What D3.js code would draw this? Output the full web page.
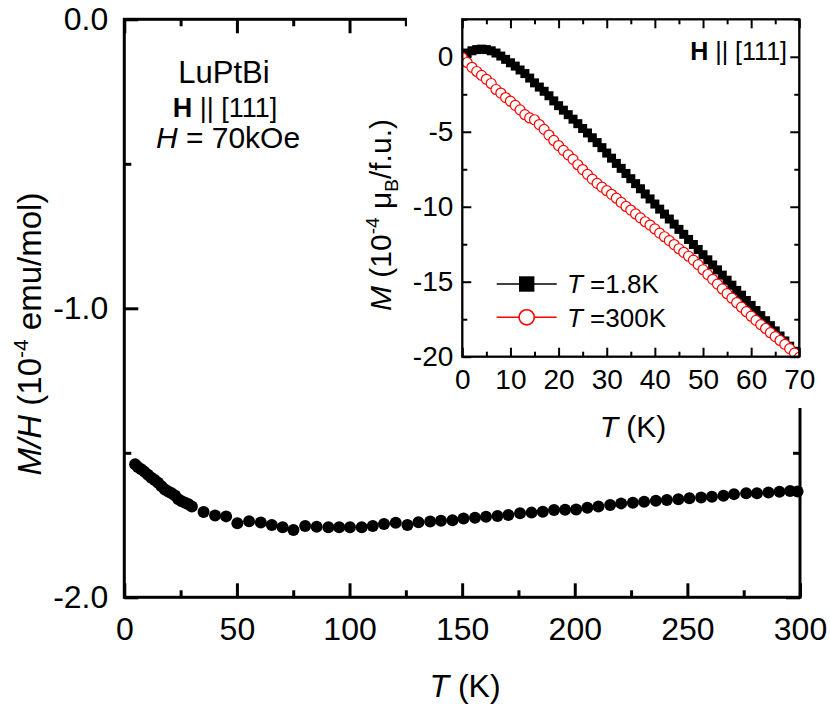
<!DOCTYPE html>
<html>
  <head>
    <title>LuPtBi M/H vs T</title>
    <script src="https://cdnjs.cloudflare.com/ajax/libs/d3/7.8.5/d3.min.js"></script>
    <style>
      body { margin: 0; background: #fff; }
      text { font-family: "Liberation Sans", Arial, sans-serif; }
    </style>
  </head>

  <body>
    <svg width="830" height="714"></svg>

    <script type="text/javascript">
      // main panel: M/H (10^-4 emu/mol) vs T (K)
      var mainT = [4.8, 6, 7.5, 9, 10.5, 12, 13.5, 15, 16.5, 18, 19.5, 21, 22.5, 24, 25.5, 27, 28.5, 30,
        35.2, 40.3, 45.2, 50.2, 55.4, 60.6, 65.5, 70.3, 75.1, 80.3, 85.4, 90.6, 95.4, 100.2, 105.4,
        110.3, 115.3, 120.5, 125.7, 130.6, 135.8, 140.6, 145.7, 150.6, 155.7, 160.6, 165.7, 170.5,
        175.7, 180.8, 185.8, 190.8, 195.7, 200.6, 205.6, 210.5, 215.7, 220.6, 225.8, 230.8, 236.0,
        240.9, 246.0, 250.9, 256.1, 260.9, 266.0, 270.7, 276.1, 280.9, 286.0, 290.9, 295.6, 298.9];
      var mainMH = [-1.540, -1.549, -1.557, -1.566, -1.576, -1.586, -1.594, -1.604, -1.616, -1.627,
        -1.634, -1.640, -1.648, -1.661, -1.668, -1.673, -1.678, -1.686,
        -1.705, -1.717, -1.720, -1.744, -1.737, -1.741, -1.750, -1.758, -1.767, -1.753, -1.756,
        -1.758, -1.758, -1.758, -1.758, -1.753, -1.746, -1.742, -1.750, -1.740, -1.738, -1.735,
        -1.733, -1.727, -1.725, -1.721, -1.719, -1.715, -1.709, -1.707, -1.704, -1.698, -1.697,
        -1.696, -1.690, -1.686, -1.681, -1.675, -1.673, -1.669, -1.666, -1.663, -1.661, -1.657,
        -1.655, -1.652, -1.649, -1.643, -1.640, -1.640, -1.637, -1.635, -1.632, -1.634];

      // inset: M (10^-4 muB/f.u.) vs field
      var insetH = [0, 1, 2, 3, 4, 5, 6, 7, 8, 9, 10, 11, 12, 13, 14, 15, 16, 17, 18, 19, 20,
        21, 22, 23, 24, 25, 26, 27, 28, 29, 30, 31, 32, 33, 34, 35, 36, 37, 38, 39, 40,
        41, 42, 43, 44, 45, 46, 47, 48, 49, 50, 51, 52, 53, 54, 55, 56, 57, 58, 59, 60,
        61, 62, 63, 64, 65, 66, 67, 68, 69, 70];
      var m1p8K = [0.02, 0.25, 0.40, 0.48, 0.51, 0.48, 0.40, 0.25, 0.05, -0.17, -0.40,
        -0.62, -0.88, -1.12, -1.42, -1.74, -2.02, -2.30, -2.60, -2.94, -3.26,
        -3.56, -3.86, -4.16, -4.46, -4.78, -5.08, -5.40, -5.72, -6.06, -6.42,
        -6.76, -7.11, -7.44, -7.78, -8.13, -8.46, -8.80, -9.15, -9.48, -9.82,
        -10.16, -10.49, -10.82, -11.16, -11.51, -11.84, -12.18, -12.52, -12.85, -13.20,
        -13.54, -13.88, -14.21, -14.56, -14.90, -15.23, -15.58, -15.90, -16.25, -16.58,
        -16.92, -17.26, -17.60, -17.93, -18.28, -18.62, -18.95, -19.30, -19.64, -19.98];
      var m300K = [-0.05, -0.38, -0.70, -0.98, -1.24, -1.50, -1.78, -2.18, -2.42, -2.72, -2.96,
        -3.24, -3.54, -3.86, -4.08, -4.20, -4.52, -4.84, -5.22, -5.58, -5.92,
        -6.24, -6.54, -6.84, -7.20, -7.52, -7.84, -8.16, -8.44, -8.69, -8.93,
        -9.17, -9.43, -9.71, -9.98, -10.22, -10.48, -10.74, -11.00, -11.22, -11.48,
        -11.76, -12.00, -12.26, -12.52, -12.80, -13.04, -13.30, -13.56, -13.86, -14.20,
        -14.52, -14.84, -15.16, -15.48, -15.80, -16.10, -16.40, -16.70, -17.00, -17.30,
        -17.58, -17.86, -18.12, -18.40, -18.66, -18.92, -19.18, -19.46, -19.76, -20.05];

      // ticks
      var mainXTicks = [0, 50, 100, 150, 200, 250, 300];
      var mainXMinor = [25, 75, 125, 175, 225, 275];
      var mainYTicks = [0, -1, -2];
      var mainYMinor = [-0.5, -1.5];
      var insetXTicks = [0, 10, 20, 30, 40, 50, 60, 70];
      var insetXMinor = [5, 15, 25, 35, 45, 55, 65];
      var insetYTicks = [0, -5, -10, -15, -20];
      var insetYMinor = [2.5, -2.5, -7.5, -12.5, -17.5];
      var legendLabels = ["=1.8K", "=300K"];

      var svg = d3.select("svg");
      svg.append("rect").attr("width", 830).attr("height", 714).attr("fill", "#fff");

      var x = d3.scaleLinear().domain([0, 300]).range([124.3, 800]);
      var y = d3.scaleLinear().domain([-2, 0]).range([597.3, 19.3]);
      var ix = d3.scaleLinear().domain([0, 70]).range([462.3, 799.3]);
      var iy = d3.scaleLinear().domain([-20, 2.5]).range([356.7, 19.3]);

      // one axis with inward ticks, optional labels
      function addAxis(axis, values, size, pad, fmt, tx, ty, fontSize, sw) {
        var g = svg.append("g")
          .attr("transform", "translate(" + tx + "," + ty + ")")
          .call(axis.tickValues(values).tickSizeInner(-size).tickSizeOuter(0)
            .tickPadding(pad).tickFormat(fmt));
        g.select(".domain").remove();
        g.selectAll("line").attr("stroke", "#000").attr("stroke-width", sw);
        g.selectAll("text")
          .attr("fill", "#000")
          .style("font-size", fontSize + "px")
          .style("font-family", "'Liberation Sans', Arial, sans-serif");
        return g;
      }
      var blank = function () { return ""; };
      var f1 = function (d) { return d.toFixed(1); };
      var f0 = function (d) { return String(d); };

      // main frame and axes
      addAxis(d3.axisBottom(x), mainXTicks, 14, 20, f0, 0, 597.3, 32, 3);
      addAxis(d3.axisBottom(x), mainXMinor, 7, 20, blank, 0, 597.3, 32, 3);
      addAxis(d3.axisTop(x), mainXTicks, 14, 20, blank, 0, 19.3, 32, 3);
      addAxis(d3.axisTop(x), mainXMinor, 7, 20, blank, 0, 19.3, 32, 3);
      addAxis(d3.axisLeft(y), mainYTicks, 14, 16, f1, 124.3, 0, 32, 3);
      addAxis(d3.axisLeft(y), mainYMinor, 7, 16, blank, 124.3, 0, 32, 3);
      addAxis(d3.axisRight(y), mainYTicks, 14, 16, blank, 800, 0, 32, 3);
      addAxis(d3.axisRight(y), mainYMinor, 7, 16, blank, 800, 0, 32, 3);
      svg.append("rect")
        .attr("x", x(0)).attr("y", y(0))
        .attr("width", x(300) - x(0)).attr("height", y(-2) - y(0))
        .attr("fill", "none").attr("stroke", "#000").attr("stroke-width", 3);

      svg.append("g")
        .selectAll("circle")
        .data(mainT)
        .enter()
        .append("circle")
        .attr("cx", function (d) { return x(d); })
        .attr("cy", function (d, i) { return y(mainMH[i]); })
        .attr("r", 6)
        .attr("fill", "#000");

      // main titles
      var mxt = svg.append("text").attr("x", 465).attr("y", 697)
        .attr("text-anchor", "middle").style("font-size", "32px");
      mxt.append("tspan").style("font-style", "italic").text("T");
      mxt.append("tspan").text(" (K)");

      var myt = svg.append("text")
        .attr("transform", "translate(41,334) rotate(-90)")
        .attr("text-anchor", "middle").style("font-size", "33px");
      myt.append("tspan").style("font-style", "italic").text("M/H");
      myt.append("tspan").text(" (10");
      myt.append("tspan").attr("dy", -13).style("font-size", "21px").text("-4");
      myt.append("tspan").attr("dy", 13).text(" emu/mol)");

      var t1 = svg.append("text").attr("x", 224).attr("y", 83)
        .attr("text-anchor", "middle").style("font-size", "31px").text("LuPtBi");
      var t2 = svg.append("text").attr("x", 225).attr("y", 117)
        .attr("text-anchor", "middle").style("font-size", "27px");
      t2.append("tspan").style("font-weight", "bold").text("H");
      t2.append("tspan").text(" || [111]");
      var t3 = svg.append("text").attr("x", 228).attr("y", 148)
        .attr("text-anchor", "middle").style("font-size", "30px");
      t3.append("tspan").style("font-style", "italic").text("H");
      t3.append("tspan").text(" = 70kOe");

      // white box behind inset hides part of the main frame
      svg.append("rect").attr("x", 407).attr("y", 0)
        .attr("width", 423).attr("height", 408).attr("fill", "#fff");

      // inset axes
      addAxis(d3.axisBottom(ix), insetXTicks, 9, 12, f0, 0, 356.7, 28, 2);
      addAxis(d3.axisBottom(ix), insetXMinor, 5, 12, blank, 0, 356.7, 28, 2);
      addAxis(d3.axisTop(ix), insetXTicks, 9, 12, blank, 0, 19.3, 28, 2);
      addAxis(d3.axisTop(ix), insetXMinor, 5, 12, blank, 0, 19.3, 28, 2);
      addAxis(d3.axisLeft(iy), insetYTicks, 9, 9, f0, 462.3, 0, 28, 2);
      addAxis(d3.axisLeft(iy), insetYMinor, 5, 9, blank, 462.3, 0, 28, 2);
      addAxis(d3.axisRight(iy), insetYTicks, 9, 9, blank, 799.3, 0, 28, 2);
      addAxis(d3.axisRight(iy), insetYMinor, 5, 9, blank, 799.3, 0, 28, 2);

      svg.append("clipPath").attr("id", "insetClip")
        .append("rect")
        .attr("x", ix(0)).attr("y", iy(2.5))
        .attr("width", ix(70) - ix(0)).attr("height", iy(-20) - iy(2.5));

      var inset = svg.append("g").attr("clip-path", "url(#insetClip)");
      var line1 = d3.line()
        .x(function (d) { return ix(d); })
        .y(function (d, i) { return iy(m1p8K[i]); });
      var line2 = d3.line()
        .x(function (d) { return ix(d); })
        .y(function (d, i) { return iy(m300K[i]); });
      inset.append("path").datum(insetH).attr("d", line1)
        .attr("fill", "none").attr("stroke", "#000").attr("stroke-width", 1.2);
      inset.append("g")
        .selectAll("rect")
        .data(insetH)
        .enter()
        .append("rect")
        .attr("x", function (d) { return ix(d) - 4.5; })
        .attr("y", function (d, i) { return iy(m1p8K[i]) - 4.5; })
        .attr("width", 9)
        .attr("height", 9)
        .attr("fill", "#000");
      inset.append("path").datum(insetH).attr("d", line2)
        .attr("fill", "none").attr("stroke", "#f00").attr("stroke-width", 1.2);
      inset.append("g")
        .selectAll("circle")
        .data(insetH)
        .enter()
        .append("circle")
        .attr("cx", function (d) { return ix(d); })
        .attr("cy", function (d, i) { return iy(m300K[i]); })
        .attr("r", 5)
        .attr("fill", "#fff")
        .attr("stroke", "#f00")
        .attr("stroke-width", 1.2);

      svg.append("rect")
        .attr("x", ix(0)).attr("y", iy(2.5))
        .attr("width", ix(70) - ix(0)).attr("height", iy(-20) - iy(2.5))
        .attr("fill", "none").attr("stroke", "#000").attr("stroke-width", 2.3);

      // legend
      var legY = [284, 317.3];
      [0, 1].forEach(function (k) {
        var col = k === 0 ? "#000" : "#f00";
        svg.append("line")
          .attr("x1", 496.7).attr("x2", 556.7)
          .attr("y1", legY[k]).attr("y2", legY[k])
          .attr("stroke", col).attr("stroke-width", 1.5);
        if (k === 0) {
          svg.append("rect").attr("x", 519).attr("y", legY[k] - 7.7)
            .attr("width", 15.4).attr("height", 15.4).attr("fill", "#000");
        } else {
          svg.append("circle").attr("cx", 526.7).attr("cy", legY[k]).attr("r", 7.6)
            .attr("fill", "#fff").attr("stroke", "#f00").attr("stroke-width", 1.6);
        }
        var lt = svg.append("text").attr("x", 567).attr("y", legY[k] + 9.3)
          .style("font-size", "26px");
        lt.append("tspan").style("font-style", "italic").text("T");
        lt.append("tspan").text(" " + legendLabels[k]);
      });

      // inset titles
      var ilab = svg.append("text").attr("x", 787).attr("y", 60)
        .attr("text-anchor", "end").style("font-size", "25px");
      ilab.append("tspan").style("font-weight", "bold").text("H");
      ilab.append("tspan").text(" || [111]");

      var ixt = svg.append("text").attr("x", 633).attr("y", 437)
        .attr("text-anchor", "middle").style("font-size", "30px");
      ixt.append("tspan").style("font-style", "italic").text("T");
      ixt.append("tspan").text(" (K)");

      var iyt = svg.append("text")
        .attr("transform", "translate(391,215) rotate(-90)")
        .attr("text-anchor", "middle").style("font-size", "30px");
      iyt.append("tspan").style("font-style", "italic").text("M");
      iyt.append("tspan").text(" (10");
      iyt.append("tspan").attr("dy", -12).style("font-size", "19px").text("-4");
      iyt.append("tspan").attr("dy", 12).text(" \u03bc");
      iyt.append("tspan").attr("dy", 7).style("font-size", "19px").text("B");
      iyt.append("tspan").attr("dy", -7).text("/f.u.)");
    </script>
  </body>
</html>
